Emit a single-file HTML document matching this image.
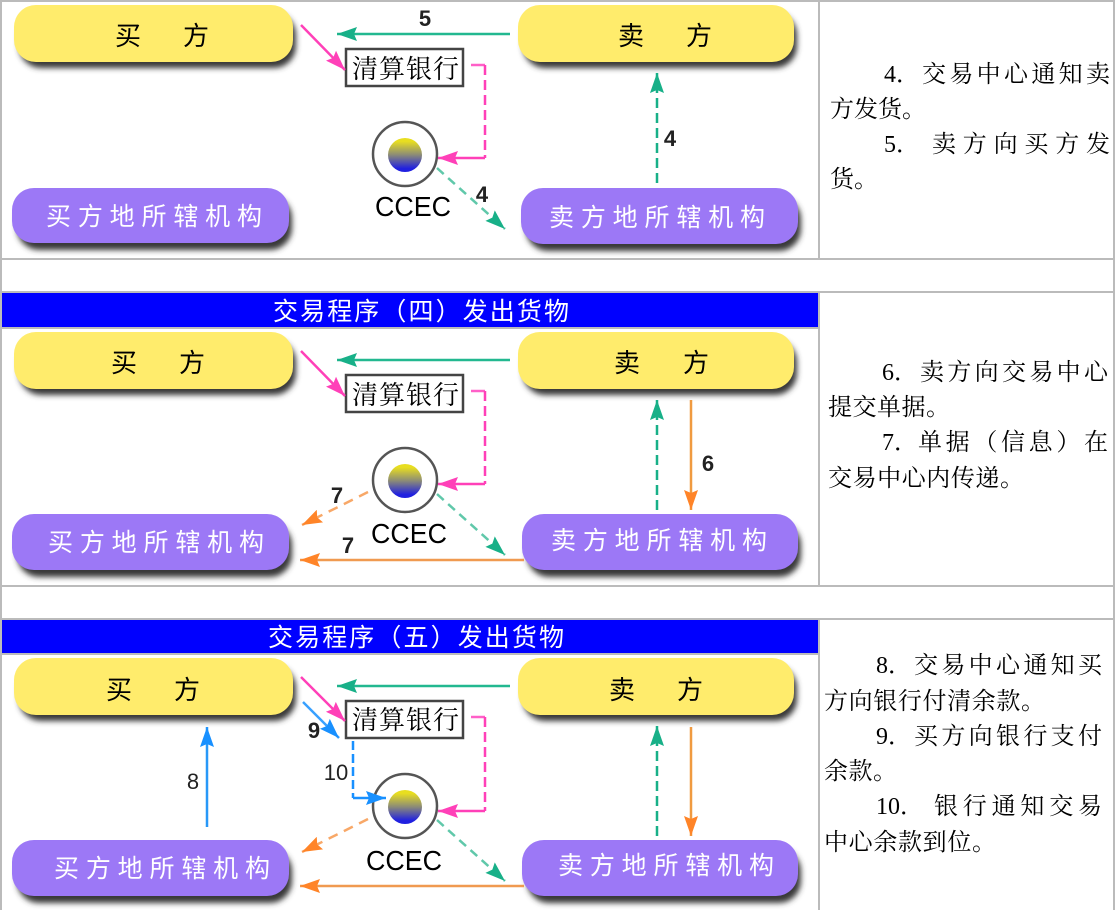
<!DOCTYPE html>
<html><head><meta charset="utf-8"><style>
html,body{margin:0;padding:0;background:#fff}
svg{display:block}
.lab{font-family:"Liberation Sans","Noto Sans CJK SC",sans-serif;font-size:22px;fill:#222;text-anchor:middle;font-weight:bold}
.ti{font-family:"Noto Sans CJK SC",sans-serif;font-size:25px;fill:#fff}
.y{font-family:"Noto Sans CJK SC",sans-serif;font-size:26px;fill:#000;text-anchor:middle}
.p{font-family:"Noto Sans CJK SC",sans-serif;font-size:25px;fill:#fff}
.c{font-family:"Liberation Sans",sans-serif;font-size:28px;fill:#000}
.r{font-family:"Liberation Serif","Noto Serif CJK SC",serif;font-size:24px;fill:#000}
.bk{font-family:"Noto Serif CJK SC",serif;font-size:26px;fill:#000}
.ln{fill:none;stroke-width:2.5}
</style></head><body>
<svg width="1116" height="910" viewBox="0 0 1116 910" xmlns="http://www.w3.org/2000/svg">
<defs>
<filter id="bl" x="-10%" y="-30%" width="120%" height="160%"><feGaussianBlur stdDeviation="2.8"/></filter>
<linearGradient id="g" x1="0" y1="0" x2="0" y2="1"><stop offset="0.1" stop-color="#e8de20"/><stop offset="0.5" stop-color="#8a8a78"/><stop offset="0.9" stop-color="#2020e0"/></linearGradient>
<marker id="mp" markerUnits="userSpaceOnUse" markerWidth="22" markerHeight="18" refX="20" refY="9" orient="auto"><path d="M0 2 L20 9 L0 16 L3 9 Z" fill="#ff40b8"/></marker>
<marker id="mg" markerUnits="userSpaceOnUse" markerWidth="22" markerHeight="18" refX="20" refY="9" orient="auto"><path d="M0 2 L20 9 L0 16 L3 9 Z" fill="#18b088"/></marker>
<marker id="mo" markerUnits="userSpaceOnUse" markerWidth="22" markerHeight="18" refX="20" refY="9" orient="auto"><path d="M0 2 L20 9 L0 16 L3 9 Z" fill="#ff8428"/></marker>
<marker id="mb" markerUnits="userSpaceOnUse" markerWidth="22" markerHeight="18" refX="20" refY="9" orient="auto"><path d="M0 2 L20 9 L0 16 L3 9 Z" fill="#1890ff"/></marker>
</defs>
<rect width="1116" height="910" fill="#fff"/>

<!-- grid -->
<g fill="#bbbbbb">
<rect x="0" y="0" width="1114" height="2"/>
<rect x="0" y="0" width="2" height="910"/>
<rect x="1113" y="0" width="2" height="910"/>
<rect x="818" y="0" width="2" height="259"/>
<rect x="0" y="258" width="1115" height="2"/>
<rect x="0" y="291" width="1115" height="2"/>
<rect x="818" y="291" width="2" height="295"/>
<rect x="0" y="327" width="819" height="2"/>
<rect x="0" y="585" width="1115" height="2"/>
<rect x="0" y="618" width="1115" height="2"/>
<rect x="818" y="618" width="2" height="292"/>
<rect x="0" y="653" width="819" height="2"/>
</g>
<rect x="2" y="293" width="816" height="34" fill="#0000ff"/>
<rect x="2" y="620" width="816" height="33" fill="#0000ff"/>
<text class="ti" x="273" y="320" textLength="296" lengthAdjust="spacing">交易程序（四）发出货物</text>
<text class="ti" x="268" y="646" textLength="296" lengthAdjust="spacing">交易程序（五）发出货物</text>

<!-- shadows -->
<g fill="#383838" filter="url(#bl)">
<rect x="19" y="13" width="277" height="55" rx="22"/>
<rect x="523" y="13" width="274" height="55" rx="22"/>
<rect x="17" y="196" width="275" height="54" rx="22"/>
<rect x="526" y="197" width="275" height="54" rx="22"/>
<rect x="19" y="340" width="277" height="55" rx="22"/>
<rect x="523" y="340" width="274" height="55" rx="22"/>
<rect x="17" y="523" width="275" height="54" rx="22"/>
<rect x="527" y="523" width="274" height="54" rx="22"/>
<rect x="19" y="666" width="277" height="55" rx="22"/>
<rect x="523" y="666" width="274" height="55" rx="22"/>
<rect x="17" y="849" width="275" height="54" rx="22"/>
<rect x="527" y="849" width="274" height="54" rx="22"/>
</g>

<!-- yellow boxes -->
<g fill="#ffec6c">
<rect x="14" y="5" width="279" height="57" rx="22"/>
<rect x="518" y="5" width="276" height="57" rx="22"/>
<rect x="14" y="332" width="279" height="57" rx="22"/>
<rect x="518" y="332" width="276" height="57" rx="22"/>
<rect x="14" y="658" width="279" height="57" rx="22"/>
<rect x="518" y="658" width="276" height="57" rx="22"/>
</g>
<!-- purple boxes -->
<g fill="#9c78f6">
<rect x="12" y="188" width="277" height="55" rx="22"/>
<rect x="521" y="188" width="277" height="56" rx="22"/>
<rect x="12" y="514" width="277" height="56" rx="22"/>
<rect x="522" y="514" width="276" height="56" rx="22"/>
<rect x="12" y="840" width="277" height="56" rx="22"/>
<rect x="522" y="840" width="276" height="56" rx="22"/>
</g>

<text class="y" x="128" y="45">买</text><text class="y" x="196" y="45">方</text>
<text class="y" x="631" y="45">卖</text><text class="y" x="699" y="45">方</text>
<text class="y" x="124" y="372">买</text><text class="y" x="192" y="372">方</text>
<text class="y" x="627" y="372">卖</text><text class="y" x="696" y="372">方</text>
<text class="y" x="119" y="699">买</text><text class="y" x="187" y="699">方</text>
<text class="y" x="622" y="699">卖</text><text class="y" x="690" y="699">方</text>

<text class="p" x="46" y="225" textLength="216" lengthAdjust="spacing">买方地所辖机构</text>
<text class="p" x="549" y="226" textLength="216" lengthAdjust="spacing">卖方地所辖机构</text>
<text class="p" x="48" y="551" textLength="216" lengthAdjust="spacing">买方地所辖机构</text>
<text class="p" x="551" y="549" textLength="216" lengthAdjust="spacing">卖方地所辖机构</text>
<text class="p" x="54" y="877" textLength="216" lengthAdjust="spacing">买方地所辖机构</text>
<text class="p" x="558" y="874" textLength="216" lengthAdjust="spacing">卖方地所辖机构</text>

<!-- bank boxes -->
<g fill="#fff" stroke="#444" stroke-width="2.5">
<rect x="346" y="49" width="117" height="37"/>
<rect x="346" y="375" width="117" height="37"/>
<rect x="346" y="701" width="117" height="37"/>
</g>
<text class="bk" x="352" y="78" textLength="107" lengthAdjust="spacing">清算银行</text>
<text class="bk" x="352" y="404" textLength="107" lengthAdjust="spacing">清算银行</text>
<text class="bk" x="352" y="729" textLength="107" lengthAdjust="spacing">清算银行</text>

<!-- circles -->
<g fill="#fff" stroke="#555" stroke-width="2.5">
<circle cx="405" cy="154" r="32"/>
<circle cx="405" cy="480" r="32"/>
<circle cx="405" cy="806" r="32"/>
</g>
<circle cx="405" cy="155" r="17" fill="url(#g)"/>
<circle cx="405" cy="481" r="17" fill="url(#g)"/>
<circle cx="405" cy="807" r="17" fill="url(#g)"/>
<text class="c" x="375" y="216" textLength="76" lengthAdjust="spacingAndGlyphs">CCEC</text>
<text class="c" x="371" y="543" textLength="76" lengthAdjust="spacingAndGlyphs">CCEC</text>
<text class="c" x="366" y="870" textLength="76" lengthAdjust="spacingAndGlyphs">CCEC</text>

<!-- panel 1 arrows -->
<g>
<path class="ln" d="M301 25 L345 70" stroke="#ff40b8" marker-end="url(#mp)"/>
<path class="ln" d="M510 34 L337 34" stroke="#22b890" marker-end="url(#mg)"/>
<path class="ln" d="M471 65 H485" stroke="#ff60c8"/>
<path class="ln" d="M485 65 V158" stroke="#ff40b8" stroke-dasharray="10 5"/>
<path class="ln" d="M485 158 H438" stroke="#ff40b8" marker-end="url(#mp)"/>
<path class="ln" d="M437 168 L505 229" stroke="#60c8aa" stroke-dasharray="9 6" marker-end="url(#mg)"/>
<path class="ln" d="M657 183 V73" stroke="#18b088" stroke-dasharray="10 5" marker-end="url(#mg)"/>
</g>
<!-- panel 2 arrows -->
<g>
<path class="ln" d="M301 351 L345 396" stroke="#ff40b8" marker-end="url(#mp)"/>
<path class="ln" d="M510 360 L337 360" stroke="#22b890" marker-end="url(#mg)"/>
<path class="ln" d="M471 391 H485" stroke="#ff60c8"/>
<path class="ln" d="M485 391 V484" stroke="#ff40b8" stroke-dasharray="10 5"/>
<path class="ln" d="M485 484 H438" stroke="#ff40b8" marker-end="url(#mp)"/>
<path class="ln" d="M437 494 L505 555" stroke="#60c8aa" stroke-dasharray="9 6" marker-end="url(#mg)"/>
<path class="ln" d="M657 510 V400" stroke="#18b088" stroke-dasharray="10 5" marker-end="url(#mg)"/>
<path class="ln" d="M691 400 V510" stroke="#f09a40" marker-end="url(#mo)"/>
<path class="ln" d="M368 492 L302 525" stroke="#f8a868" stroke-dasharray="10 7" marker-end="url(#mo)"/>
<path class="ln" d="M524 560 H300" stroke="#f09a50" marker-end="url(#mo)"/>
</g>
<!-- panel 3 arrows -->
<g>
<path class="ln" d="M301 677 L345 721" stroke="#ff40b8" marker-end="url(#mp)"/>
<path class="ln" d="M510 686 L337 686" stroke="#22b890" marker-end="url(#mg)"/>
<path class="ln" d="M471 717 H485" stroke="#ff60c8"/>
<path class="ln" d="M485 717 V811" stroke="#ff40b8" stroke-dasharray="10 5"/>
<path class="ln" d="M485 811 H438" stroke="#ff40b8" marker-end="url(#mp)"/>
<path class="ln" d="M437 820 L505 881" stroke="#60c8aa" stroke-dasharray="9 6" marker-end="url(#mg)"/>
<path class="ln" d="M657 836 V726" stroke="#18b088" stroke-dasharray="10 5" marker-end="url(#mg)"/>
<path class="ln" d="M691 727 V836" stroke="#f09a40" marker-end="url(#mo)"/>
<path class="ln" d="M368 819 L302 852" stroke="#f8a868" stroke-dasharray="10 7" marker-end="url(#mo)"/>
<path class="ln" d="M524 886 H300" stroke="#f09a50" marker-end="url(#mo)"/>
<path class="ln" d="M207 827 V727" stroke="#2898f8" marker-end="url(#mb)"/>
<path class="ln" d="M303 702 L339 738" stroke="#38a0ff" marker-end="url(#mb)"/>
<path class="ln" d="M353 741 V798" stroke="#1890ff" stroke-dasharray="9 4"/>
<path class="ln" d="M353 798 H386" stroke="#1890ff" marker-end="url(#mb)"/>
</g>

<!-- number labels -->
<text class="lab" x="425" y="26">5</text>
<text class="lab" x="482" y="202">4</text>
<text class="lab" x="670" y="146">4</text>
<text class="lab" x="708" y="471">6</text>
<text class="lab" x="337" y="503">7</text>
<text class="lab" x="348" y="553">7</text>
<text class="lab" x="193" y="789" style="font-weight:normal">8</text>
<text class="lab" x="314" y="738">9</text>
<text class="lab" x="336" y="780" style="font-weight:normal">10</text>

<!-- right column -->
<text class="r" x="884" y="82">4．</text><text class="r" x="922" y="82" textLength="188" lengthAdjust="spacing">交易中心通知卖</text>
<text class="r" x="830" y="117" textLength="96" lengthAdjust="spacing">方发货。</text>
<text class="r" x="884" y="152">5．</text><text class="r" x="932" y="152" textLength="178" lengthAdjust="spacing">卖方向买方发</text>
<text class="r" x="830" y="187" textLength="48" lengthAdjust="spacing">货。</text>

<text class="r" x="882" y="380">6．</text><text class="r" x="920" y="380" textLength="188" lengthAdjust="spacing">卖方向交易中心</text>
<text class="r" x="828" y="415" textLength="122" lengthAdjust="spacing">提交单据。</text>
<text class="r" x="882" y="450">7．</text><text class="r" x="918" y="450" textLength="190" lengthAdjust="spacing">单据（信息）在</text>
<text class="r" x="828" y="486" textLength="196" lengthAdjust="spacing">交易中心内传递。</text>

<text class="r" x="876" y="673">8．</text><text class="r" x="914" y="673" textLength="188" lengthAdjust="spacing">交易中心通知买</text>
<text class="r" x="824" y="709" textLength="221" lengthAdjust="spacing">方向银行付清余款。</text>
<text class="r" x="876" y="744">9．</text><text class="r" x="914" y="744" textLength="188" lengthAdjust="spacing">买方向银行支付</text>
<text class="r" x="824" y="779" textLength="73" lengthAdjust="spacing">余款。</text>
<text class="r" x="876" y="814">10．</text><text class="r" x="934" y="814" textLength="168" lengthAdjust="spacing">银行通知交易</text>
<text class="r" x="824" y="850" textLength="172" lengthAdjust="spacing">中心余款到位。</text>
</svg>
</body></html>
